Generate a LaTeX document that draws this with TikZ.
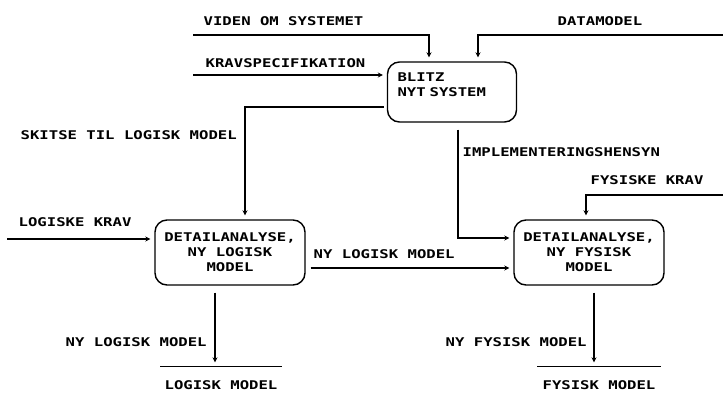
\documentclass[tikz,border=0pt]{standalone}
\usepackage{fontspec}
\newfontfamily\dfdfont{DejaVu Sans Mono}[FakeStretch=1.3]
\usetikzlibrary{arrows.meta}

\begin{document}
\begin{tikzpicture}[x=1pt, y=-1pt, line width=1.4pt,
  every node/.style={font=\dfdfont\bfseries\fontsize{12}{15}\selectfont},
  proc/.style={draw, rounded corners=12pt, minimum width=150pt, minimum height=65pt, align=center, inner sep=0pt},
  lbl/.style={anchor=west, inner sep=0pt},
  store/.style={minimum width=120pt, text height=8.75pt, text depth=0pt, inner xsep=0pt, inner ysep=13.6pt},
  flow/.style={-{Stealth[length=5pt, width=5pt]}, shorten >=4pt}]
  \useasboundingbox (0,0) rectangle (723,397);

  % processer
  \node[proc, minimum width=129pt, minimum height=60pt, text width=109pt,
        align=left, inner xsep=10pt] (blitz) at (452,92) {BLITZ\\NYT\ SYSTEM\\~};
  \node[proc] (dlog) at (230,252.5) {DETAILANALYSE,\\NY LOGISK\\MODEL};
  \node[proc] (dfys) at (589,252.5) {DETAILANALYSE,\\NY FYSISK\\MODEL};

  % lagre
  \node[store] (slog) at (221,385) {LOGISK MODEL};
  \node[store, minimum width=122pt] (sfys) at (599,385) {FYSISK MODEL};
  \draw (slog.north west) -- (slog.north east);
  \draw (sfys.north west) -- (sfys.north east);

  % frie ender
  \coordinate (vo) at (193,35);
  \coordinate (dm) at (723,35);
  \coordinate (ks) at (193,75);
  \coordinate (lk) at (7,239);
  \coordinate (fk) at (723,195);

  % strømme
  \draw[flow] (vo) -| ([xshift=-23pt]blitz.north);
  \draw[flow] (dm) -| ([xshift=26pt]blitz.north);
  \draw[flow] (ks) -- (ks -| blitz.west);
  \draw[flow, shorten <=3pt] ([yshift=-15pt]blitz.west) -| ([xshift=15pt]dlog.north);
  \draw[flow, shorten <=7pt] ([xshift=6pt]blitz.south) |- ([yshift=14.5pt]dfys.west);
  \draw[flow] (lk) -- (lk -| dlog.west);
  \draw[flow] (fk) -| ([xshift=-3pt]dfys.north);
  \draw[flow, shorten <=5pt] ([yshift=-15.5pt]dlog.east) -- ([yshift=-15.5pt]dfys.west);
  \draw[flow, shorten <=7pt] ([xshift=-15pt]dlog.south) -- ([xshift=-15pt]dlog.south |- slog.north);
  \draw[flow, shorten <=7pt] ([xshift=5pt]dfys.south) -- ([xshift=5pt]dfys.south |- sfys.north);

  % tekster
  \node[lbl] (tvo) at (203,21) {VIDEN OM SYSTEMET};
  \node[lbl] (tdm) at (557,21) {DATAMODEL};
  \node[lbl] (tks) at (205,63) {KRAVSPECIFIKATION};
  \node[lbl] (tsk) at (20,135) {SKITSE TIL LOGISK MODEL};
  \node[lbl] (tim) at (462,152) {IMPLEMENTERINGSHENSYN};
  \node[lbl] (tfk) at (590,180) {FYSISKE KRAV};
  \node[lbl] (tlk) at (18,222) {LOGISKE KRAV};
  \node[lbl] (tnl) at (313,254) {NY LOGISK MODEL};
  \node[lbl] (tnlb) at (65,342) {NY LOGISK MODEL};
  \node[lbl] (tnfb) at (445,342) {NY FYSISK MODEL};
\end{tikzpicture}
\end{document}
